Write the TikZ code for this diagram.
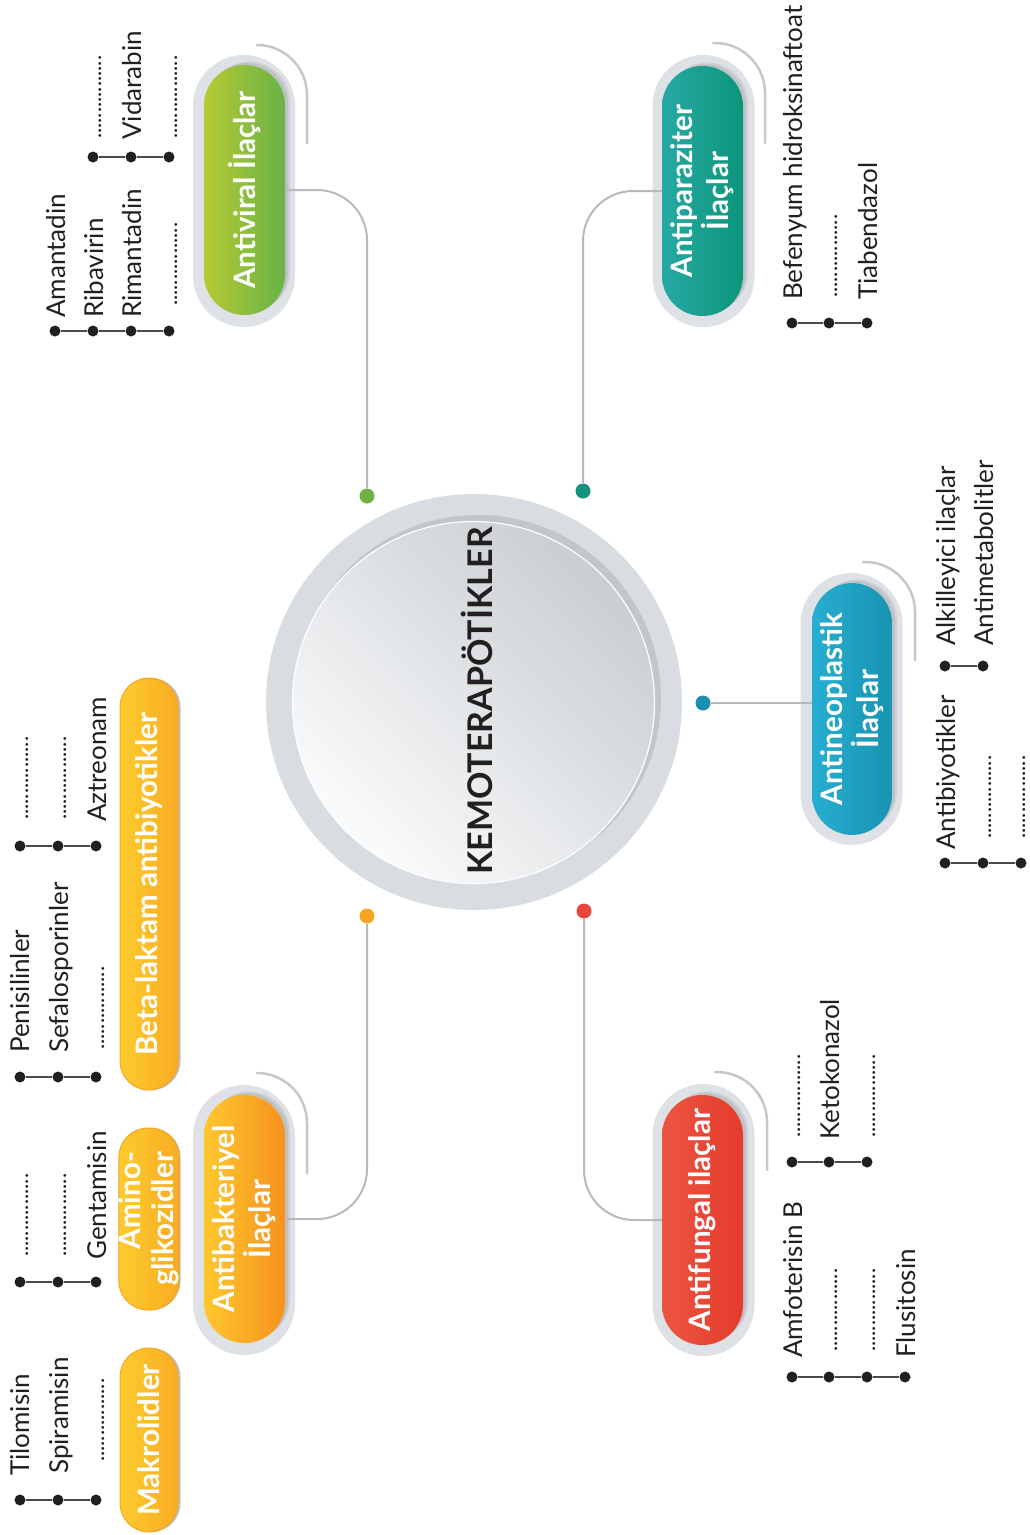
\documentclass[tikz,border=0pt]{standalone}
\usepackage{fontspec}
\setmainfont{Lato}
\usetikzlibrary{calc}
\definecolor{ringc}{HTML}{D9DCE0}
\definecolor{ringsh}{HTML}{C2C5C9}
\definecolor{diskg}{HTML}{CACED2}
\definecolor{diskw}{HTML}{FAFBFC}
\definecolor{haloc}{HTML}{DEE1E6}
\definecolor{connc}{HTML}{B6BABD}
\definecolor{decoc}{HTML}{C4C7CB}
\definecolor{bul}{HTML}{231F20}
\definecolor{lline}{HTML}{4A4A4A}
\definecolor{txt}{HTML}{231F20}
\definecolor{gnL}{HTML}{B5CA34}
\definecolor{gnR}{HTML}{69B246}
\definecolor{gnD}{HTML}{72B043}
\definecolor{tlL}{HTML}{27A9A4}
\definecolor{tlR}{HTML}{0B957A}
\definecolor{tlD}{HTML}{17917F}
\definecolor{blL}{HTML}{27AED1}
\definecolor{blR}{HTML}{1893B2}
\definecolor{blD}{HTML}{1B8FB0}
\definecolor{rdL}{HTML}{EC5541}
\definecolor{rdR}{HTML}{E43B2D}
\definecolor{rdD}{HTML}{E8453C}
\definecolor{orL}{HTML}{FEC72F}
\definecolor{orR}{HTML}{F6921E}
\definecolor{orD}{HTML}{F6A623}
\definecolor{ylL}{HTML}{FDCB2D}
\definecolor{ylR}{HTML}{F8AC24}
\definecolor{ylB}{HTML}{F5A623}
\begin{document}
\begin{tikzpicture}[x=1pt,y=-1pt,
  conn/.style={draw=connc, line width=2pt, rounded corners=50pt},
  deco/.style={draw=decoc, line width=2.5pt, rounded corners=50pt, line cap=round},
  hub/.style={circle, inner sep=0, minimum size=15pt},
  bullet/.style={circle, fill=bul, inner sep=0, minimum size=11pt},
  listline/.style={draw=lline, line width=1.4pt},
  item/.style={rotate=90, anchor=base west, inner sep=0, font=\fontsize{26}{30}\selectfont, text=txt},
  dotsitem/.style={item, font=\fontsize{22}{26}\selectfont},
  halo/.style={rectangle, rotate=90, fill=haloc, inner sep=0, minimum width=272pt, minimum height=102pt, rounded corners=51pt},
  pillshape/.style={rectangle, rotate=90, inner sep=0, minimum width=250pt, minimum height=81pt, rounded corners=40.5pt},
  bigpill/.style={pillshape, text=white, align=center, font=\bfseries\fontsize{29.5}{36}\selectfont},
  pshadow/.style={pillshape, fill=black, opacity=0.07},
  smallpill/.style={rectangle, rotate=90, inner sep=0, minimum height=58pt, rounded corners=29pt, text=white, align=center, font=\bfseries\fontsize{29.5}{33}\selectfont, left color=ylL, right color=ylR, draw=ylB, line width=1pt},
  spshadow/.style={rectangle, rotate=90, inner sep=0, minimum height=58pt, rounded corners=29pt, fill=black, opacity=0.25},
]
\useasboundingbox (0,0) rectangle (1029,1535);

% ---------- central circle ----------
\node[circle, fill=ringc, minimum size=416pt, inner sep=0] (ring) at (474,702) {};
\node[circle, fill=ringsh, minimum size=366pt, inner sep=0] (ringshadow) at (478,698) {};
\node[circle, minimum size=362pt, inner sep=0, top color=diskg, bottom color=diskw, shading angle=-45, draw=white, line width=1.2pt] (disk) at (473.5,702.5) {};
\node[rotate=90, inner sep=0, font=\bfseries\fontsize{34}{40}\selectfont, text=txt] (kemo) at (477,701) {KEMOTERAPÖTİKLER};

% ---------- halos ----------
\node[halo] (hav) at (244,191) {};
\node[halo] (hap) at (703.5,191) {};
\node[halo] (han) at (851.5,709) {};
\node[halo] (haf) at (703.5,1220) {};
\node[halo, minimum width=270pt] (hab) at (244,1220) {};

% ---------- decorative arcs ----------
\draw[deco] (257,45) -- (307,45) -- (307,143);
\draw[deco] (713,43) -- (765,43) -- (765,143);
\draw[deco] (863,562) -- (915,562) -- (915,660);
\draw[deco] (715,1072) -- (767,1072) -- (767,1170);
\draw[deco] (257,1073) -- (307,1073) -- (307,1173);

% ---------- shadows of big pills ----------
\node[pshadow] (sav1) at (247.5,188) {};
\node[pshadow] (sav2) at (249.5,186.5) {};
\node[pshadow] (sap1) at (705.5,189) {};
\node[pshadow] (sap2) at (707.5,187.5) {};
\node[pshadow, minimum width=252pt, minimum height=80pt] (san1) at (855,707) {};
\node[pshadow, minimum width=252pt, minimum height=80pt] (san2) at (857,705.5) {};
\node[pshadow] (saf1) at (705.5,1218) {};
\node[pshadow] (saf2) at (707.5,1216.5) {};
\node[pshadow, minimum width=248pt] (sab1) at (247.5,1217) {};
\node[pshadow, minimum width=248pt] (sab2) at (249.5,1215.5) {};

% ---------- big pills ----------
\node[bigpill, left color=gnL, right color=gnR] (av) at (244.5,190) {Antiviral İlaçlar};
\node[bigpill, left color=tlL, right color=tlR] (ap) at (702.5,191) {Antiparaziter\\İlaçlar};
\node[bigpill, left color=blL, right color=blR, minimum width=252pt, minimum height=80pt] (an) at (852,709) {Antineoplastik\\İlaçlar};
\node[bigpill, left color=rdL, right color=rdR] (af) at (702.5,1220) {Antifungal ilaçlar};
\node[bigpill, left color=orL, right color=orR, minimum width=248pt] (ab) at (244.5,1219) {Antibakteriyel\\İlaçlar};

% ---------- small pills ----------
\node[spshadow, minimum width=412pt] (sbl) at (151.5,884) {};
\node[spshadow, minimum width=182pt] (sag) at (151.5,1219) {};
\node[spshadow, minimum width=184pt] (smk) at (151.5,1440) {};
\node[smallpill, minimum width=412pt] (bl) at (149,884) {Beta-laktam antibiyotikler};
\node[smallpill, minimum width=182pt, align=right] (ag) at (149,1219) {Amino-\\glikozidler};
\node[smallpill, minimum width=184pt] (mk) at (149,1440) {Makrolidler};

% ---------- hub dots ----------
\node[hub, fill=gnD] (dg) at (367,496) {};
\node[hub, fill=tlD] (dt) at (583,491) {};
\node[hub, fill=blD] (db) at (703,703) {};
\node[hub, fill=orD] (do) at (367,916) {};
\node[hub, fill=rdD] (dr) at (584,911) {};

% ---------- connectors ----------
\draw[conn] (dg) -- (dg |- av.south) -- (av.south);
\draw[conn] (dt) -- (dt |- ap.north) -- (ap.north);
\draw[conn] (db) -- (db -| an.north);
\draw[conn] (dr) -- (dr |- af.north) -- (af.north);
\draw[conn] (do) -- (do |- ab.south) -- (ab.south);

% ---------- lists ----------
% Antiviral 1
\node[bullet] (a1) at (55,331) {};
\node[bullet] (a2) at (93,331) {};
\node[bullet] (a3) at (131,331) {};
\node[bullet] (a4) at (169,331) {};
\draw[listline] (a1) -- (a2) (a2) -- (a3) (a3) -- (a4);
\node[item] (ta1) at (65,318) {Amantadin};
\node[item] (ta2) at (103,318) {Ribavirin};
\node[item] (ta3) at (141,318) {Rimantadin};
\node[dotsitem] (ta4) at (177,306) {................};
% Antiviral 2
\node[bullet] (b1) at (93,157) {};
\node[bullet] (b2) at (131,157) {};
\node[bullet] (b3) at (169,157) {};
\draw[listline] (b1) -- (b2) (b2) -- (b3);
\node[dotsitem] (tb1) at (101,139) {................};
\node[item] (tb2) at (141,140) {Vidarabin};
\node[dotsitem] (tb3) at (177,139) {................};
% Antiparaziter
\node[bullet] (c1) at (792,323) {};
\node[bullet] (c2) at (829,323) {};
\node[bullet] (c3) at (867,323) {};
\draw[listline] (c1) -- (c2) (c2) -- (c3);
\node[item] (tc1) at (802,300) {Befenyum hidroksinaftoat};
\node[dotsitem] (tc2) at (837,298) {................};
\node[item] (tc3) at (877,300) {Tiabendazol};
% Antineoplastik 1
\node[bullet] (d1) at (945,666) {};
\node[bullet] (d2) at (983,666) {};
\draw[listline] (d1) -- (d2);
\node[item] (td1) at (955,646) {Alkilleyici ilaçlar};
\node[item] (td2) at (993,646) {Antimetabolitler};
% Antineoplastik 2
\node[bullet] (e1) at (945,863) {};
\node[bullet] (e2) at (983,863) {};
\node[bullet] (e3) at (1021,863) {};
\draw[listline] (e1) -- (e2) (e2) -- (e3);
\node[item] (te1) at (955,850) {Antibiyotikler};
\node[dotsitem] (te2) at (991,839) {................};
\node[dotsitem] (te3) at (1025,839) {................};
% Antifungal 1
\node[bullet] (f1) at (792,1162) {};
\node[bullet] (f2) at (829,1162) {};
\node[bullet] (f3) at (867,1162) {};
\draw[listline] (f1) -- (f2) (f2) -- (f3);
\node[dotsitem] (tf1) at (800,1138) {................};
\node[item] (tf2) at (839,1140) {Ketokonazol};
\node[dotsitem] (tf3) at (875,1138) {................};
% Antifungal 2
\node[bullet] (g1) at (792,1377) {};
\node[bullet] (g2) at (829,1377) {};
\node[bullet] (g3) at (867,1377) {};
\node[bullet] (g4) at (905,1377) {};
\draw[listline] (g1) -- (g2) (g2) -- (g3) (g3) -- (g4);
\node[item] (tg1) at (802,1358) {Amfoterisin B};
\node[dotsitem] (tg2) at (837,1352) {................};
\node[dotsitem] (tg3) at (875,1352) {................};
\node[item] (tg4) at (915,1358) {Flusitosin};
% Beta-laktam 1
\node[bullet] (h1) at (20,1077) {};
\node[bullet] (h2) at (58,1077) {};
\node[bullet] (h3) at (96,1077) {};
\draw[listline] (h1) -- (h2) (h2) -- (h3);
\node[item] (th1) at (30,1053) {Penisilinler};
\node[item] (th2) at (68,1053) {Sefalosporinler};
\node[dotsitem] (th3) at (104,1050) {................};
% Beta-laktam 2
\node[bullet] (i1) at (20,846) {};
\node[bullet] (i2) at (58,846) {};
\node[bullet] (i3) at (96,846) {};
\draw[listline] (i1) -- (i2) (i2) -- (i3);
\node[dotsitem] (ti1) at (28,820) {................};
\node[dotsitem] (ti2) at (66,820) {................};
\node[item] (ti3) at (106,822) {Aztreonam};
% Aminoglikozidler
\node[bullet] (j1) at (20,1282) {};
\node[bullet] (j2) at (58,1282) {};
\node[bullet] (j3) at (96,1282) {};
\draw[listline] (j1) -- (j2) (j2) -- (j3);
\node[dotsitem] (tj1) at (28,1257) {................};
\node[dotsitem] (tj2) at (66,1257) {................};
\node[item] (tj3) at (106,1260) {Gentamisin};
% Makrolidler
\node[bullet] (k1) at (20,1500) {};
\node[bullet] (k2) at (58,1500) {};
\node[bullet] (k3) at (96,1500) {};
\draw[listline] (k1) -- (k2) (k2) -- (k3);
\node[item] (tk1) at (30,1476) {Tilomisin};
\node[item] (tk2) at (68,1474) {Spiramisin};
\node[dotsitem] (tk3) at (104,1462) {................};
\end{tikzpicture}
\end{document}
